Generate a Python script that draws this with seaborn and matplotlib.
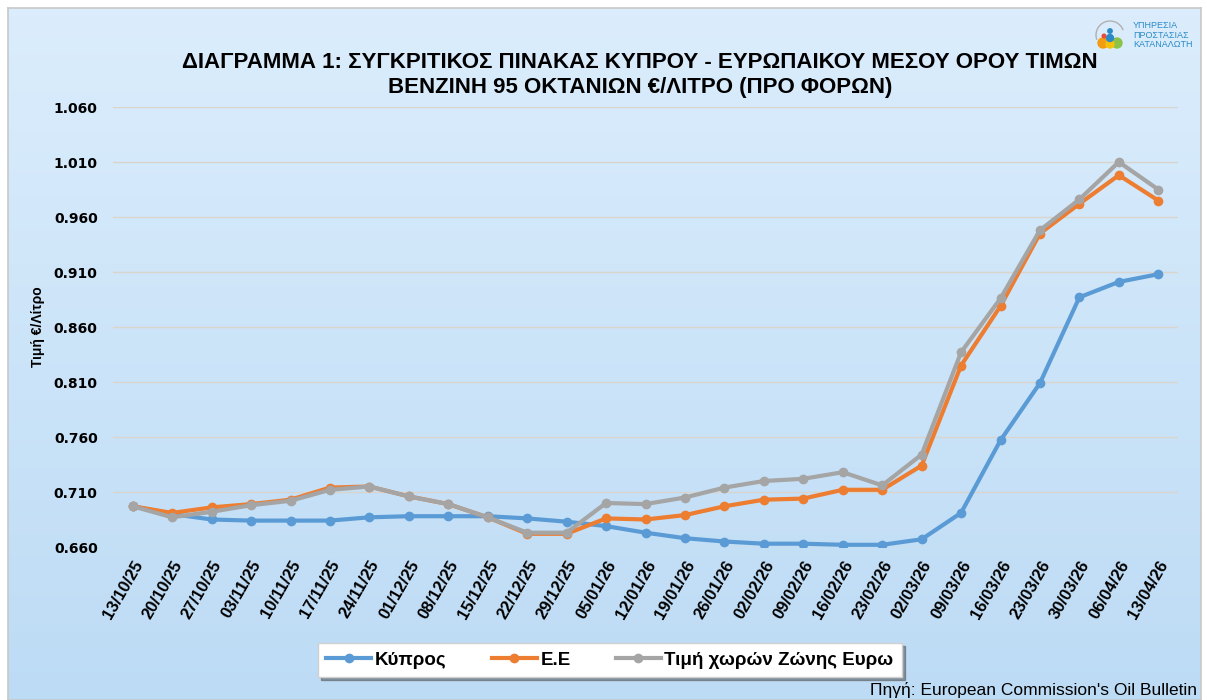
import matplotlib
matplotlib.use("Agg")
import matplotlib.pyplot as plt
from matplotlib.patches import Arc, Circle
import numpy as np
import seaborn as sns

dates = ["13/10/25", "20/10/25", "27/10/25", "03/11/25", "10/11/25", "17/11/25",
         "24/11/25", "01/12/25", "08/12/25", "15/12/25", "22/12/25", "29/12/25",
         "05/01/26", "12/01/26", "19/01/26", "26/01/26", "02/02/26", "09/02/26",
         "16/02/26", "23/02/26", "02/03/26", "09/03/26", "16/03/26", "23/03/26",
         "30/03/26", "06/04/26", "13/04/26"]

cyprus = [0.697, 0.690, 0.685, 0.684, 0.684, 0.684, 0.687, 0.688, 0.688, 0.688,
          0.686, 0.683, 0.679, 0.673, 0.668, 0.665, 0.663, 0.663, 0.662, 0.662,
          0.667, 0.691, 0.757, 0.809, 0.887, 0.901, 0.908]
eu = [0.697, 0.691, 0.696, 0.699, 0.703, 0.714, 0.715, 0.706, 0.699, 0.687,
      0.672, 0.672, 0.686, 0.685, 0.689, 0.697, 0.703, 0.704, 0.712, 0.712,
      0.734, 0.825, 0.879, 0.945, 0.972, 0.998, 0.975]
eurozone = [0.697, 0.687, 0.692, 0.698, 0.702, 0.712, 0.715, 0.706, 0.699, 0.687,
            0.673, 0.673, 0.700, 0.699, 0.705, 0.714, 0.720, 0.722, 0.728, 0.716,
            0.744, 0.837, 0.886, 0.948, 0.976, 1.010, 0.985]

series_names = ["Κύπρος", "Ε.Ε", "Τιμή χωρών Ζώνης Ευρω"]
series_colors = ["#5B9BD5", "#ED7D31", "#A5A5A5"]

yticks = [0.660, 0.710, 0.760, 0.810, 0.860, 0.910, 0.960, 1.010, 1.060]

W, H = 1207, 700
plt.rcParams["font.family"] = ["Liberation Sans", "DejaVu Sans"]

fig = plt.figure(figsize=(W / 100, H / 100), dpi=100)
fig.patch.set_facecolor("white")

# gradient background panel
bg = fig.add_axes([8 / W, 0, (W - 14) / W, (H - 8) / H])
grad = np.linspace(0, 1, 256).reshape(-1, 1)
top = np.array([0.86, 0.93, 0.99])
bot = np.array([0.74, 0.86, 0.96])
img = top[None, None, :] * (1 - grad[:, :, None]) + bot[None, None, :] * grad[:, :, None]
bg.imshow(img, aspect="auto", extent=[0, 1, 0, 1])
bg.set_xlim(0, 1)
bg.set_ylim(0, 1)
for s in bg.spines.values():
    s.set_color("#c8c8c8")
    s.set_linewidth(1.2)
bg.set_xticks([])
bg.set_yticks([])

left, right, top_px, bottom_px = 113, 1178, 107, 547
ax = fig.add_axes([left / W, 1 - bottom_px / H, (right - left) / W, (bottom_px - top_px) / H])
ax.set_facecolor("none")

x = np.arange(len(dates))
for name, vals, col in zip(series_names, [cyprus, eu, eurozone], series_colors):
    sns.lineplot(x=x, y=vals, ax=ax, color=col, linewidth=3, marker="o",
                 markersize=7, markeredgewidth=0, label=name, zorder=3)

ax.set_xlim(-0.5, len(dates) - 0.5)
ax.set_ylim(0.660, 1.060)
ax.set_yticks(yticks)
ax.set_yticklabels(["%.3f" % v for v in yticks], fontweight="bold", fontsize=10,
                   family="DejaVu Sans")
ax.set_xticks(x)
ax.set_xticklabels(dates, rotation=60, ha="right", rotation_mode="anchor",
                   fontweight="bold", fontsize=12)
ax.tick_params(axis="y", length=0, pad=11)
ax.tick_params(axis="x", length=0, pad=8)
ax.grid(axis="y", color="#d9d4cc", linewidth=1)
ax.grid(axis="x", visible=False)
for s in ax.spines.values():
    s.set_visible(False)
ax.set_ylabel("Τιμή €/Λίτρο", fontweight="bold", fontsize=10)
ax.yaxis.set_label_coords(-0.064, 0.5)
ax.get_legend().remove()

handles, labels = ax.get_legend_handles_labels()
leg = fig.legend(handles, labels, loc="center", bbox_to_anchor=(610 / W, 1 - 660 / H),
                 ncol=3, frameon=True, fancybox=False, shadow=True,
                 prop={"weight": "bold", "size": 13.5}, handlelength=2.4,
                 columnspacing=2.4, borderpad=0.45, handletextpad=0.2)
leg.get_frame().set_edgecolor("#d0d0d0")
leg.get_frame().set_facecolor("white")
leg.get_frame().set_alpha(1)

fig.text(640 / W, 1 - 62 / H,
         "ΔΙΑΓΡΑΜΜΑ 1: ΣΥΓΚΡΙΤΙΚΟΣ ΠΙΝΑΚΑΣ ΚΥΠΡΟΥ - ΕΥΡΩΠΑΙΚΟΥ ΜΕΣΟΥ ΟΡΟΥ ΤΙΜΩΝ",
         ha="center", va="center", fontsize=16, fontweight="bold")
fig.text(640 / W, 1 - 88 / H, "ΒΕΝΖΙΝΗ 95 ΟΚΤΑΝΙΩΝ €/ΛΙΤΡΟ (ΠΡΟ ΦΟΡΩΝ)",
         ha="center", va="center", fontsize=16, fontweight="bold")

# logo
fig.text(1133 / W, 1 - 35 / H, "ΥΠΗΡΕΣΙΑ\nΠΡΟΣΤΑΣΙΑΣ\nΚΑΤΑΝΑΛΩΤΗ", ha="left", va="center",
         fontsize=6.5, color="#2a8ac8", linespacing=1.05)
la = fig.add_axes([1092 / W, 1 - 52 / H, 36 / W, 34 / H])
la.set_xlim(0, 36)
la.set_ylim(0, 34)
la.axis("off")
la.add_patch(Arc((18, 17), 28, 28, theta1=20, theta2=200, color="#b0b0b0", lw=1))
for cx, cy, c, r in [(11, 9, "#f39c12", 5), (25, 9, "#8bc34a", 5), (18, 8, "#f4c20d", 4),
                     (18, 14, "#2a8ac8", 3.5), (18, 21, "#2a8ac8", 2.2), (12, 16, "#e74c3c", 1.8)]:
    la.add_patch(Circle((cx, cy), r, color=c))

fig.text(1197 / W, 1 - 690 / H, "Πηγή: European Commission's Oil Bulletin",
         ha="right", va="center", fontsize=12.5)

fig.savefig("out.png", dpi=100)
